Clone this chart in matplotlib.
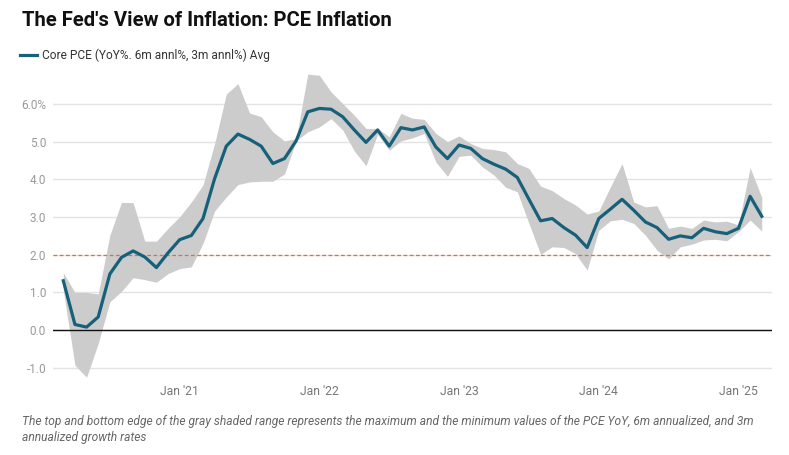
import numpy as np
import matplotlib
matplotlib.use("Agg")
import matplotlib.pyplot as plt

plt.rcParams['font.family'] = ['Roboto', 'DejaVu Sans']

# monthly, Mar 2020 .. Mar 2025
avg = [1.31, 0.15, 0.08, 0.35, 1.49, 1.93, 2.10, 1.94, 1.66, 2.05,
       2.40, 2.51, 2.96, 4.02, 4.88, 5.20, 5.06, 4.88, 4.42, 4.55, 5.02, 5.79,
       5.88, 5.86, 5.66, 5.31, 4.98, 5.31, 4.88, 5.37, 5.31, 5.39, 4.86, 4.55,
       4.91, 4.82, 4.55, 4.40, 4.27, 4.05, 3.47, 2.90, 2.96, 2.72, 2.52, 2.19,
       2.96, 3.21, 3.47, 3.18, 2.87, 2.72, 2.41, 2.50, 2.45, 2.70, 2.61, 2.56,
       2.70, 3.55, 3.02]
upper = [1.52, 1.00, 1.00, 0.96, 2.52, 3.39, 3.38, 2.36, 2.36, 2.70,
         3.01, 3.40, 3.85, 4.95, 6.26, 6.54, 5.76, 5.66, 5.26, 5.02, 5.08, 6.79,
         6.76, 6.32, 6.01, 5.70, 5.35, 5.35, 5.13, 5.75, 5.62, 5.59, 5.22, 5.00,
         5.15, 4.95, 4.82, 4.79, 4.73, 4.42, 4.29, 3.82, 3.70, 3.49, 3.32, 3.08,
         3.16, 3.80, 4.42, 3.40, 3.27, 3.30, 2.70, 2.76, 2.70, 2.92, 2.87, 2.89,
         2.79, 4.31, 3.52]
lower = [1.06, -0.93, -1.25, -0.35, 0.75, 1.03, 1.39, 1.34, 1.27, 1.50,
         1.63, 1.68, 2.30, 3.16, 3.53, 3.86, 3.93, 3.95, 3.95, 4.14, 5.02, 5.26,
         5.39, 5.61, 5.31, 4.75, 4.36, 5.20, 4.77, 5.02, 5.10, 5.22, 4.46, 4.08,
         4.61, 4.64, 4.33, 4.11, 3.79, 3.67, 2.83, 2.01, 2.21, 2.19, 2.03, 1.59,
         2.65, 2.90, 2.94, 2.83, 2.52, 2.12, 1.89, 2.21, 2.28, 2.39, 2.41, 2.37,
         2.61, 2.92, 2.63]

yticks = [-1, 0, 1, 2, 3, 4, 5, 6]
ytick_labels = ["-1.0", "0.0", "1.0", "2.0", "3.0", "4.0", "5.0", "6.0%"]
xtick_pos = [10, 22, 34, 46, 58]  # January of each year
xtick_labels = ["Jan '21", "Jan '22", "Jan '23", "Jan '24", "Jan '25"]
target = 2.0

x = np.arange(len(avg))

fig = plt.figure(figsize=(7.89, 4.55), dpi=100)
ax = fig.add_axes([53 / 789, 1 - 378 / 455, 719 / 789, 308 / 455])

ax.fill_between(x, lower, upper, color="#cccccc", lw=0, zorder=2)
line, = ax.plot(x, avg, color="#17607a", lw=2.3, zorder=4,
                label="Core PCE (YoY%. 6m annl%, 3m annl%) Avg")
ax.axhline(0, color="#111111", lw=1.0, zorder=3)
ax.axhline(target, color="#ea6a30", lw=0.9, ls=(0, (3, 2)), zorder=3)

ax.set_xlim(-0.885, 60.88)
ax.set_ylim(-1.27, 6.90)
ax.set_yticks(yticks)
ax.set_yticklabels(ytick_labels)
ax.set_xticks(xtick_pos)
ax.set_xticklabels(xtick_labels)
ax.grid(axis="y", color="#e3e3e3", lw=1.0, zorder=0)
ax.tick_params(axis="y", length=0, pad=5, labelsize=8.5, labelcolor="#999999")
ax.tick_params(axis="x", length=0, pad=5, labelsize=8.7, labelcolor="#777777")
for s in ax.spines.values():
    s.set_visible(False)

fig.text(22 / 789, 1 - 21 / 455, "The Fed's View of Inflation: PCE Inflation",
         fontsize=14.6, fontweight="bold", va="center", ha="left", color="#111111")

fig.legend(handles=[line], loc="center left", bbox_to_anchor=(20 / 789, 1 - 55 / 455),
           frameon=False, fontsize=8.6, handlelength=1.45, handletextpad=0.4,
           borderpad=0, borderaxespad=0, labelcolor="#333333")

fig.text(22 / 789, 1 - 429.5 / 455,
         "The top and bottom edge of the gray shaded range represents the maximum and the minimum values "
         "of the PCE YoY, 6m annualized, and 3m\nannualized growth rates",
         fontsize=8.65, style="italic", color="#666666", va="center", ha="left", linespacing=1.3)

fig.savefig("out.png", dpi=100)
